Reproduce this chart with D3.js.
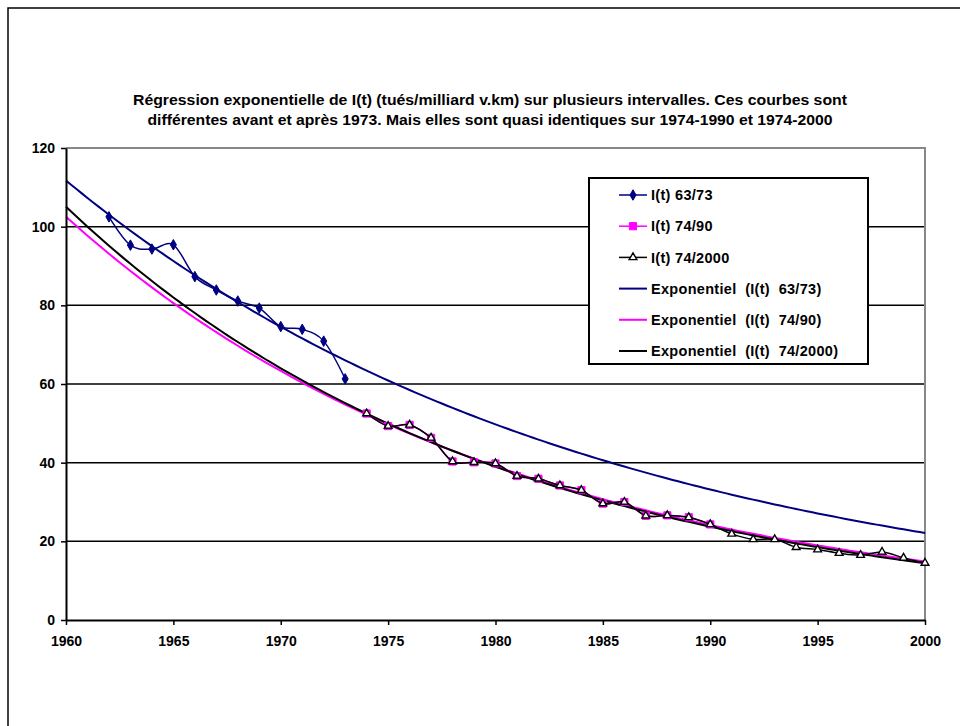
<!DOCTYPE html>
<html>
<head>
<meta charset="utf-8">
<script src="https://cdn.jsdelivr.net/npm/d3@7"></script>
<style>
  body { margin: 0; background: #fff; }
  text { font-family: "Liberation Sans", Arial, sans-serif; font-weight: bold; }
</style>
</head>
<body>
<div id="chart"></div>
<script>
// data
var years6373 = [1962, 1963, 1964, 1965, 1966, 1967, 1968, 1969, 1970, 1971, 1972, 1973];
var vals6373 = [102.5, 95.3, 94.3, 95.4, 87.3, 83.9, 81.1, 79.3, 74.6, 73.9, 70.9, 61.3];

var years742000 = [1974, 1975, 1976, 1977, 1978, 1979, 1980, 1981, 1982, 1983, 1984, 1985, 1986, 1987,
  1988, 1989, 1990, 1991, 1992, 1993, 1994, 1995, 1996, 1997, 1998, 1999, 2000];
var vals742000 = [52.5, 49.3, 49.6, 46.3, 40.3, 40.1, 39.8, 36.6, 35.9, 34.2, 33.0, 29.6, 30.0, 26.5,
  26.6, 26.1, 24.3, 21.9, 20.5, 20.5, 18.5, 17.9, 17.0, 16.5, 17.3, 15.8, 14.5];

var years7490 = years742000.slice(0, 17);
var vals7490 = vals742000.slice(0, 17);

var xTicks = [1960, 1965, 1970, 1975, 1980, 1985, 1990, 1995, 2000];
var yTicks = [0, 20, 40, 60, 80, 100, 120];

var titleLines = [
  "Régression exponentielle de I(t) (tués/milliard v.km) sur plusieurs intervalles. Ces courbes sont",
  "différentes avant et après 1973. Mais elles sont quasi identiques sur 1974-1990 et 1974-2000"
];
var titleWidths = [714, 685];

var legendLabels = ["I(t) 63/73", "I(t) 74/90", "I(t) 74/2000",
  "Exponentiel  (I(t)  63/73)", "Exponentiel  (I(t)  74/90)", "Exponentiel  (I(t)  74/2000)"];

var svgWidth = 960;
var svgHeight = 726;
var margin = {top: 148, right: 35, bottom: 106, left: 66};
var chartWidth = svgWidth - margin.left - margin.right;
var chartHeight = svgHeight - margin.top - margin.bottom;

var svg = d3.select("#chart").append("svg")
  .attr("width", svgWidth)
  .attr("height", svgHeight);

// outer chart frame
svg.append("rect")
  .attr("x", 8).attr("y", 8)
  .attr("width", 960).attr("height", 740)
  .attr("fill", "#fff")
  .attr("stroke", "#000")
  .attr("stroke-width", 1.5);

var g = svg.append("g")
  .attr("transform", `translate(${margin.left}, ${margin.top})`);

var x = d3.scaleLinear().domain([1960, 2000]).range([0, chartWidth]);
var y = d3.scaleLinear().domain([0, 120]).range([chartHeight, 0]);

// gridlines
g.selectAll(".grid").data(yTicks.slice(1, -1)).enter()
  .append("line")
  .attr("x1", 0).attr("x2", chartWidth)
  .attr("y1", d => y(d)).attr("y2", d => y(d))
  .attr("stroke", "#000")
  .attr("stroke-width", 1.5);

// plot area border (grey top/right)
g.append("path")
  .attr("d", `M0,${y(120)}H${chartWidth}V${chartHeight}`)
  .attr("fill", "none")
  .attr("stroke", "#888")
  .attr("stroke-width", 2);

// exponential regression, like Excel's trendline
function expFit(xs, ys) {
  var lx = xs.map(v => v - 1960);
  var ly = ys.map(v => Math.log(v));
  var mx = d3.mean(lx), my = d3.mean(ly);
  var sxy = d3.sum(lx, (v, i) => (v - mx) * (ly[i] - my));
  var sxx = d3.sum(lx, v => (v - mx) * (v - mx));
  var b = sxy / sxx;
  var a = Math.exp(my - b * mx);
  return t => a * Math.exp(b * (t - 1960));
}

var trendYears = d3.range(1960, 2000.001, 0.25);
var trends = [
  {fn: expFit(years6373, vals6373), color: "#000080"},
  {fn: expFit(years7490, vals7490), color: "#ff00ff"},
  {fn: expFit(years742000, vals742000), color: "#000000"}
];

var trendLine = d3.line().x(d => x(d[0])).y(d => y(d[1]));
trends.forEach(function(tr) {
  g.append("path")
    .datum(trendYears.map(t => [t, tr.fn(t)]))
    .attr("d", trendLine)
    .attr("fill", "none")
    .attr("stroke", tr.color)
    .attr("stroke-width", 2);
});

// data series, smoothed like the original
var smooth = d3.line().x(d => x(d[0])).y(d => y(d[1])).curve(d3.curveCatmullRom.alpha(0));

var markerSym = {
  diamond: d3.symbol().type(d3.symbolDiamond).size(32),
  square: d3.symbol().type(d3.symbolSquare).size(52),
  triangle: d3.symbol().type(d3.symbolTriangle).size(26)
};

var series = [
  {years: years6373, vals: vals6373, color: "#000080", marker: "diamond"},
  {years: years7490, vals: vals7490, color: "#ff00ff", marker: "square"},
  {years: years742000, vals: vals742000, color: "#000000", marker: "triangle"}
];

series.forEach(function(s) {
  var pts = s.years.map((t, i) => [t, s.vals[i]]);
  g.append("path")
    .datum(pts)
    .attr("d", smooth)
    .attr("fill", "none")
    .attr("stroke", s.color)
    .attr("stroke-width", 1.5);

  g.selectAll(".m-" + s.marker).data(pts).enter()
    .append("path")
    .attr("class", "m-" + s.marker)
    .attr("transform", d => `translate(${x(d[0])}, ${y(d[1])})`)
    .attr("d", markerSym[s.marker])
    .attr("fill", s.marker == "triangle" ? "#fff" : s.color)
    .attr("stroke", s.marker == "triangle" ? "#000" : s.color)
    .attr("stroke-width", s.marker == "triangle" ? 1.4 : 1);
});

// axes
var bottomAxis = d3.axisBottom(x).tickValues(xTicks).tickFormat(d3.format("d")).tickSize(5).tickSizeOuter(0);
var leftAxis = d3.axisLeft(y).tickValues(yTicks).tickSize(5).tickSizeOuter(0);

var xg = g.append("g")
  .attr("transform", `translate(0, ${chartHeight})`)
  .call(bottomAxis);
var yg = g.append("g").call(leftAxis);

[xg, yg].forEach(function(ax) {
  ax.select(".domain").attr("stroke", "#000").attr("stroke-width", 2);
  ax.selectAll(".tick line").attr("stroke", "#000").attr("stroke-width", 1.5);
  ax.selectAll(".tick text")
    .attr("fill", "#000")
    .style("font-size", "14px")
    .style("font-family", "'Liberation Sans', Arial, sans-serif")
    .style("font-weight", "bold");
});
xg.selectAll(".tick text").attr("dy", "1.3em");
yg.selectAll(".tick text").attr("x", -11);

// title
svg.selectAll(".title").data(titleLines).enter()
  .append("text")
  .attr("class", "title")
  .attr("x", 490)
  .attr("y", (d, i) => 105 + i * 19.5)
  .attr("text-anchor", "middle")
  .attr("textLength", (d, i) => titleWidths[i])
  .attr("lengthAdjust", "spacingAndGlyphs")
  .style("font-size", "15px")
  .text(d => d);

// legend
var legend = svg.append("g").attr("transform", "translate(589, 178)");
legend.append("rect")
  .attr("width", 279).attr("height", 186)
  .attr("fill", "#fff")
  .attr("stroke", "#000")
  .attr("stroke-width", 2);

var legendKeys = [
  {color: "#000080", marker: "diamond"},
  {color: "#ff00ff", marker: "square"},
  {color: "#000000", marker: "triangle"},
  {color: "#000080", marker: null},
  {color: "#ff00ff", marker: null},
  {color: "#000000", marker: null}
];

var rows = legend.selectAll(".leg").data(legendLabels).enter()
  .append("g")
  .attr("transform", (d, i) => `translate(0, ${17 + i * 31.2})`);

rows.append("line")
  .attr("x1", 30).attr("x2", 58)
  .attr("stroke", (d, i) => legendKeys[i].color)
  .attr("stroke-width", (d, i) => i < 3 ? 1.5 : 2);

rows.each(function(d, i) {
  var k = legendKeys[i];
  if (!k.marker) return;
  d3.select(this).append("path")
    .attr("transform", "translate(44, 0)")
    .attr("d", markerSym[k.marker]())
    .attr("fill", k.marker == "triangle" ? "#fff" : k.color)
    .attr("stroke", k.marker == "triangle" ? "#000" : k.color)
    .attr("stroke-width", k.marker == "triangle" ? 1.4 : 1);
});

rows.append("text")
  .attr("x", 62)
  .attr("dy", "0.36em")
  .style("font-size", "14.5px")
  .style("letter-spacing", "0.3px")
  .style("white-space", "pre")
  .text(d => d);
</script>
</body>
</html>
